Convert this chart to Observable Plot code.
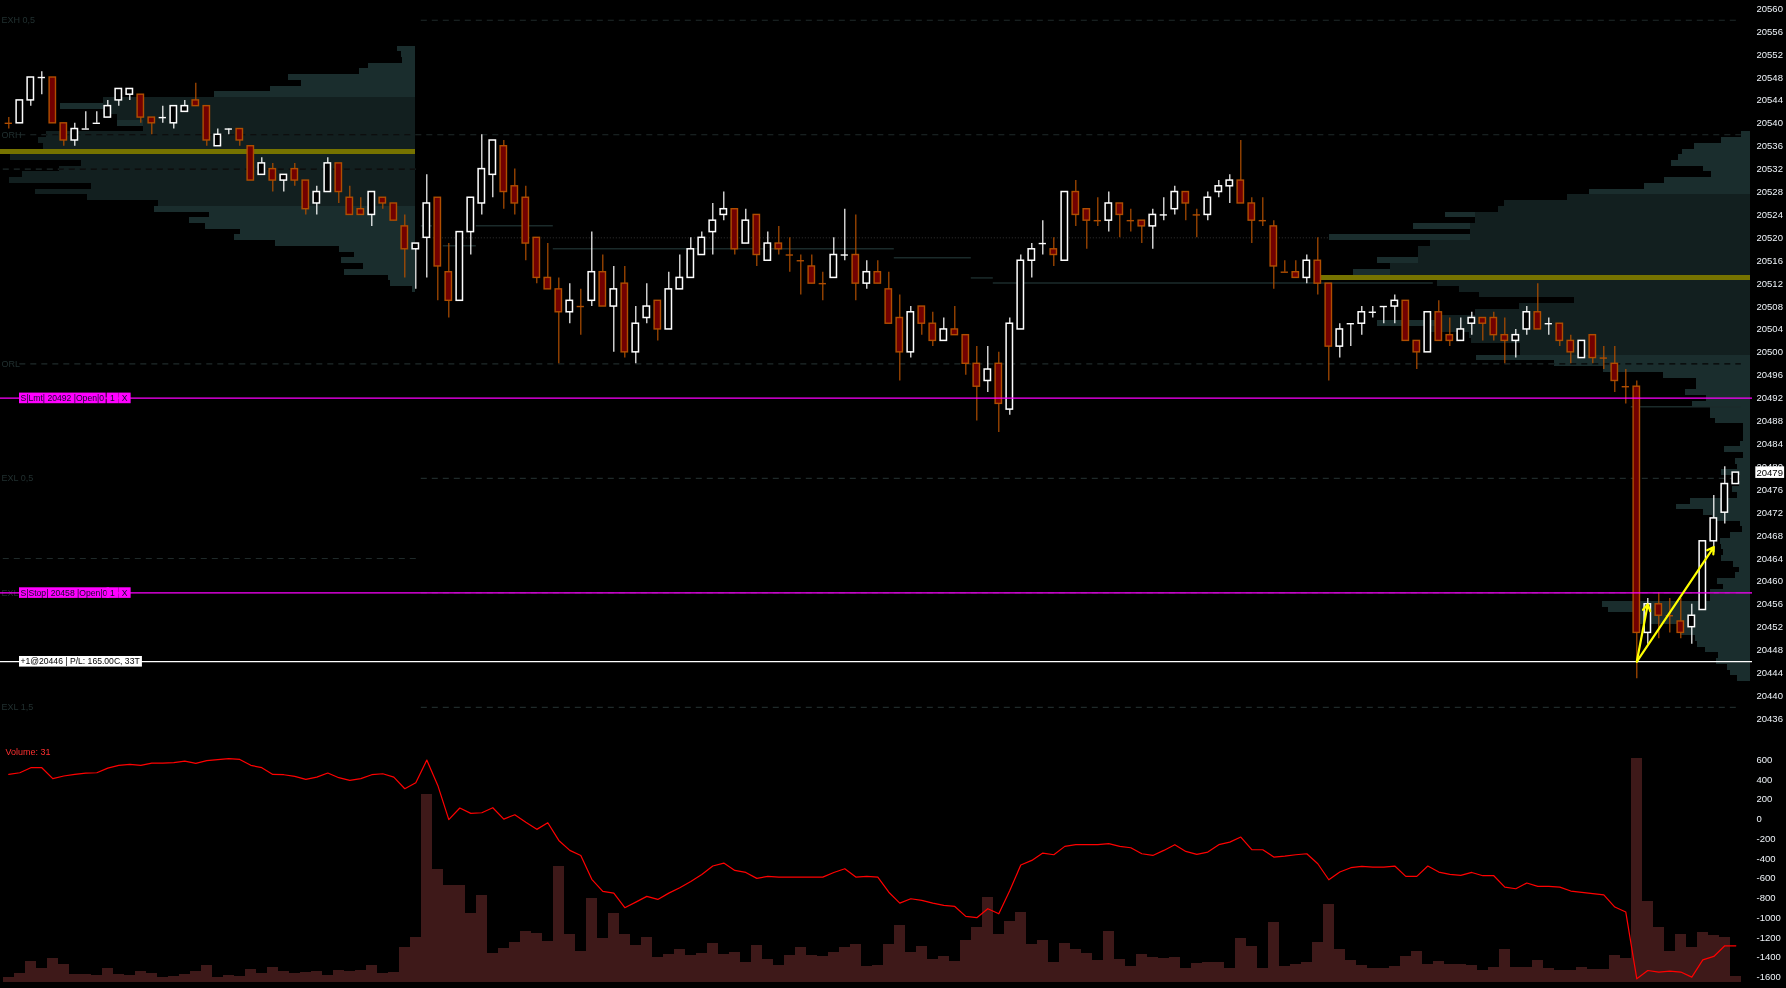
<!DOCTYPE html>
<html>
<head>
<meta charset="utf-8">
<script src="https://cdn.jsdelivr.net/npm/d3@7"></script>
<script src="https://cdn.jsdelivr.net/npm/@observablehq/plot@0.6"></script>
<style>
  html, body { margin: 0; padding: 0; background: #000; overflow: hidden; }
  #chart { position: relative; width: 1786px; height: 988px; background: #000; }
  #chart svg { position: absolute; left: 0; top: 0; }
</style>
</head>
<body>
<div id="chart"></div>
<script>
// ---------------- DATA ----------------
const open = [20540,20540,20544,20548,20548,20540,20537,20539,20540,20541,
20544,20545,20545,20541,20541,20540,20542,20544,20543,20536,
20539,20539,20536,20531,20532,20530,20532,20530,20526,20528,
20533,20527,20525,20524,20527,20526,20522,20518,20520,20527,
20514,20509,20521,20526,20531,20536,20529,20527,20520,20513,
20511,20507,20508,20509,20514,20508,20512,20500,20506,20509,
20504,20511,20513,20517,20521,20524,20525,20519,20524,20516,
20519,20517,20516,20515,20512,20513,20517,20517,20512,20514,
20511,20506,20500,20508,20505,20502,20504,20503,20498,20495,
20498,20490,20504,20516,20519,20518,20516,20528,20525,20523,
20523,20526,20523,20523,20522,20524,20525,20528,20524,20524,
20528,20529,20530,20526,20523,20522,20514,20514,20513,20516,
20512,20501,20505,20505,20507,20508,20508,20509,20502,20500,
20507,20503,20502,20505,20506,20506,20503,20502,20504,20507,
20505,20505,20502,20499,20503,20499,20498,20494,20494,20451,
20456,20454,20453,20452,20455,20467,20472,20477];
const high = [20541,20544,20548,20549,20548,20540,20540,20542,20542,20544,
20546,20546,20545,20541,20543,20543,20544,20547,20543,20539,
20539,20539,20536,20534,20533,20531,20533,20530,20529,20534,
20533,20529,20527,20528,20527,20526,20524,20519,20531,20527,
20519,20521,20527,20538,20537,20537,20532,20529,20520,20519,
20513,20512,20511,20521,20517,20515,20515,20508,20512,20509,
20514,20517,20520,20521,20526,20528,20525,20525,20524,20521,
20522,20520,20517,20517,20514,20520,20525,20524,20516,20516,
20514,20510,20508,20508,20507,20506,20508,20503,20501,20501,
20500,20506,20517,20519,20523,20520,20528,20530,20525,20527,
20528,20526,20525,20523,20525,20527,20529,20528,20525,20528,
20530,20531,20537,20527,20527,20523,20516,20516,20517,20520,
20512,20505,20505,20508,20508,20508,20510,20509,20502,20507,
20509,20506,20506,20507,20506,20507,20506,20504,20508,20512,
20506,20505,20503,20502,20503,20501,20501,20497,20495,20457,
20458,20457,20457,20456,20467,20475,20480,20479];
const low = [20539,20540,20543,20545,20540,20536,20536,20539,20540,20541,
20543,20544,20540,20538,20540,20539,20542,20543,20536,20536,
20538,20536,20530,20531,20528,20528,20529,20524,20524,20528,
20526,20524,20524,20522,20525,20523,20513,20511,20513,20509,
20506,20509,20517,20524,20527,20525,20524,20516,20512,20511,
20498,20505,20503,20508,20508,20500,20499,20498,20505,20502,
20504,20511,20513,20517,20517,20523,20517,20519,20515,20516,
20517,20514,20510,20512,20509,20513,20516,20509,20511,20512,
20505,20495,20499,20503,20501,20502,20503,20496,20488,20493,
20486,20489,20504,20513,20517,20515,20516,20522,20518,20522,
20521,20520,20521,20519,20518,20523,20524,20523,20520,20523,
20527,20526,20526,20519,20522,20511,20514,20513,20512,20510,
20495,20499,20501,20503,20506,20505,20505,20502,20497,20500,
20502,20501,20502,20503,20502,20502,20498,20499,20503,20504,
20503,20501,20498,20499,20498,20497,20493,20491,20443,20449,
20450,20451,20450,20449,20455,20465,20470,20477];
const close = [20540,20544,20548,20548,20540,20537,20539,20539,20540,20543,
20546,20546,20541,20540,20541,20543,20543,20543,20537,20538,
20539,20537,20530,20533,20530,20531,20530,20525,20528,20533,
20528,20524,20524,20528,20526,20523,20518,20519,20526,20515,
20509,20521,20527,20532,20537,20528,20526,20519,20513,20511,
20507,20509,20508,20514,20508,20511,20500,20505,20508,20504,
20511,20513,20518,20520,20523,20525,20518,20523,20517,20519,
20518,20517,20516,20512,20512,20517,20517,20512,20514,20512,
20505,20500,20507,20505,20502,20504,20503,20498,20494,20497,
20491,20505,20516,20518,20519,20517,20528,20524,20523,20523,
20526,20524,20523,20522,20524,20524,20528,20526,20524,20527,
20529,20530,20526,20523,20523,20515,20514,20513,20516,20512,
20501,20504,20505,20507,20507,20508,20509,20502,20500,20507,
20502,20502,20504,20506,20505,20503,20502,20503,20507,20504,
20505,20502,20500,20502,20499,20499,20495,20494,20451,20456,
20454,20454,20451,20454,20467,20471,20477,20479];
// dojis drawn in the "up" colour
const dojiUp = [3,7,8,14,20,76,94,105,122,124,125,140];

const volume = [25,47,112,74,129,96,42,42,36,74,
42,36,58,47,25,31,42,58,91,25,
36,31,69,47,80,58,47,53,58,36,
63,58,63,91,47,53,189,243,1021,613,
526,526,374,472,156,183,216,276,265,221,
629,259,167,455,238,374,259,200,243,134,
151,178,145,156,211,151,161,107,200,123,
91,145,189,145,140,161,189,205,85,91,
205,308,161,194,123,140,112,227,296,461,
259,330,379,205,227,107,211,178,156,118,
276,123,85,151,134,129,134,74,102,107,
107,74,238,194,74,325,85,96,107,216,
423,178,118,91,74,74,85,140,167,96,
112,96,96,91,63,80,178,80,80,118,
74,63,63,80,69,69,145,129,1217,439,
297,167,259,189,270,254,243,31];
const cumDelta = [452,469,520,520,409,436,452,466,469,516,
544,554,544,567,567,571,587,564,591,601,
611,604,544,520,452,449,432,402,425,466,
419,392,409,449,459,425,307,368,597,341,
-6,112,58,64,115,0,44,-33,-104,-37,
-216,-317,-368,-610,-732,-749,-897,-840,-782,-813,
-749,-695,-631,-560,-475,-445,-519,-540,-600,-580,
-587,-587,-587,-587,-587,-540,-502,-587,-580,-587,
-740,-850,-806,-823,-850,-874,-884,-985,-998,-907,
-958,-722,-465,-418,-344,-361,-276,-259,-259,-259,
-249,-276,-290,-351,-368,-317,-259,-327,-357,-334,
-259,-233,-182,-310,-310,-384,-374,-361,-351,-452,
-614,-536,-492,-479,-486,-486,-475,-580,-580,-475,
-536,-560,-570,-540,-573,-573,-688,-705,-647,-681,
-681,-688,-728,-742,-755,-766,-890,-941,-1616,-1532,
-1548,-1538,-1548,-1599,-1424,-1390,-1282,-1282];

// volume profiles (one row per price tick, from the top price down)
const leftProfHigh = 20553;
const leftProfVol = [18,14,13,47,56,127,114,145,201,312,
355,312,298,298,272,369,377,372,415,405,
334,356,393,406,324,380,328,257,261,206,
226,210,175,181,140,76,61,74,52,71,
27,25,3];
const leftVAH = 20544;
const leftProfVA = [312,312,312,298,272,272,369,377,372,415,405,334,356,393,406,324,380,328,257];
const leftPOC = 20535;

const rightProfHigh = 20538;
const rightProfVol = [9,29,56,68,72,79,47,39,86,106,
161,183,246,252,305,275,337,280,421,320,
332,332,373,360,397,430,313,291,271,176,
231,275,309,373,320,281,279,230,230,274,
196,147,87,54,54,65,44,58,40,40,
35,7,7,7,10,26,7,15,13,29,
10,11,18,13,60,74,47,38,10,8,
20,30,29,27,29,17,11,15,33,27,
40,40,148,142,117,110,72,70,55,53,
45,32,34,23,20,13];
const rightVAH = 20527;
const rightProfVA = [183,246,252,275,275,280,280,280,320,332,332,332,360,360,430,313,291,271,176,231,275,309,309,320,281,279,230,230];
const rightPOC = 20513;

// key levels
const levelNames = ["EXH 0,5","ORH","ORL","EXL 0,5","EXL 1","EXL 1,5"];
const levelPrices = [20558,20538,20498,20478,20458,20438];
const levelFromBar = [38,1.5,1.5,38,38,38];
const prevLevelPrices = [20532,20464];
const sessionStartBar = 38;

// developing line segments [fromBar, toBar, price]
const devSegFrom = [38,40,43,50,81,88,90,148];
const devSegTo   = [38,42,49,80,87,89,129,157];
const devSegPrice = [20522.1,20518.6,20522.1,20518.1,20516.5,20513,20512.1,20490.5];
const dottedLevel = {price: 20520, from: 38, to: 120};

// orders & position
const orderText = ["S|Lmt| 20492 |Open|0","S|Stop| 20458 |Open|0"];
const orderPrice = [20492,20458];
const orderQty = ["1","1"];
const positionText = "+1@20446 | P/L: 165.00C, 33T";
const positionPrice = 20446;

// executions (entry -> exits)
const tradeEntryBar = [148,148], tradeEntryPrice = [20446,20446];
const tradeExitBar = [149,155], tradeExitPrice = [20456,20466];

const priceTicks = [20436,20440,20444,20448,20452,20456,20460,20464,20468,20472,20476,20480,
20484,20488,20492,20496,20500,20504,20508,20512,20516,20520,20524,20528,20532,20536,20540,
20544,20548,20552,20556,20560];
const deltaTicks = [-1600,-1400,-1200,-1000,-800,-600,-400,-200,0,200,400,600];

// ---------------- LAYOUT / STYLE ----------------
const W = 1786, H = 988;
const FONT = "'Liberation Sans', Arial, sans-serif";
const xDomain = [0, 157], xRange = [8.3, 1735.3];
const yDomain = [20436, 20560], yRange = [718.3, 8.3];
const LIGHT = "#1a2d2d", DARK = "#121f1f", OLIVE = "#767300";
const baseStyle = {background: "transparent", color: "#eef3f8", fontFamily: FONT, fontSize: "9px", overflow: "visible"};

const candles = open.map((o, i) => ({i, o, h: high[i], l: low[i], c: close[i],
  up: close[i] > o || (close[i] === o && dojiUp.includes(i))}));
const upC = candles.filter(d => d.up), dnC = candles.filter(d => !d.up);

const chart = document.getElementById("chart");

// ---------- profiles ----------
function profilePlot(high0, vols, vah, vaVols, poc, xRangeP) {
  const rows = vols.map((v, k) => ({p: high0 - k, v}));
  const va = vaVols.map((v, k) => ({p: vah - k, v}));
  const pocRow = rows.find(d => d.p === poc);
  return Plot.plot({
    width: W, height: H, margin: 0,
    x: {domain: [0, d3.max(vols)], range: xRangeP, axis: null},
    y: {domain: yDomain, range: yRange, axis: null},
    style: baseStyle,
    marks: [
      Plot.rect(rows, {x1: 0, x2: "v", y1: d => d.p - 0.5, y2: d => d.p + 0.5, fill: LIGHT, shapeRendering: "crispEdges"}),
      Plot.rect(va, {x1: 0, x2: "v", y1: d => d.p - 0.5, y2: d => d.p + 0.5, fill: DARK, shapeRendering: "crispEdges"}),
      Plot.rect([pocRow], {x1: 0, x2: "v", y1: d => d.p - 0.5, y2: d => d.p + 0.5, fill: OLIVE, shapeRendering: "crispEdges"})
    ]
  });
}
chart.appendChild(profilePlot(leftProfHigh, leftProfVol, leftVAH, leftProfVA, leftPOC, [415, 0]));
chart.appendChild(profilePlot(rightProfHigh, rightProfVol, rightVAH, rightProfVA, rightPOC, [1750, 1320]));

// ---------- key level lines (difference blend so they show dark over profiles) ----------
const levels = levelNames.map((n, k) => ({n, p: levelPrices[k], from: levelFromBar[k]}));
const lastBar = open.length - 1;
const levelSvg = Plot.plot({
  width: W, height: H, margin: 0, marginRight: 34,
  x: {domain: xDomain, range: xRange, axis: null},
  y: {domain: yDomain, range: yRange, axis: null},
  style: baseStyle,
  marks: [
    Plot.ruleY(levels, {y: "p", x1: d => d.from - 0.5, x2: lastBar + 0.5, stroke: "#1f2a2a", strokeWidth: 1.2, strokeDasharray: "6,5"}),
    Plot.ruleY(prevLevelPrices, {y: d => d, x1: -0.5, x2: sessionStartBar - 0.5, stroke: "#1f2a2a", strokeWidth: 1.2, strokeDasharray: "6,5"})
  ]
});
levelSvg.style.mixBlendMode = "difference";
chart.appendChild(levelSvg);

// ---------- main price chart ----------
const devSegs = devSegFrom.map((f, k) => ({f, t: devSegTo[k], p: devSegPrice[k]}));
const orders = orderText.map((t, k) => ({t, p: orderPrice[k], q: orderQty[k]}));
const trades = tradeEntryBar.map((b, k) => ({eb: b, ep: tradeEntryPrice[k], xb: tradeExitBar[k], xp: tradeExitPrice[k]}));
const lastClose = close[lastBar];
const WHITE = "#ffffff", DNFILL = "#720000", DNLINE = "#b04e00";
// text colours of the tags (used to find them afterwards for their boxes)
const TAG_ORDER = "#120a2a", TAG_QTY = "#120a2b", TAG_X = "#120a2c", TAG_POS = "#010101", TAG_PRICE = "#020202";
const tagBoxes = {
  [TAG_ORDER]: ["#ff00ff", 1.5], [TAG_QTY]: ["#ff00ff", 3.5], [TAG_X]: ["#ff00ff", 3],
  [TAG_POS]: ["#ffffff", 1.5], [TAG_PRICE]: ["#ffffff", 1.2]
};

const main = Plot.plot({
  width: W, height: H, margin: 0, marginRight: 34,
  x: {domain: xDomain, range: xRange, axis: null},
  y: {domain: yDomain, range: yRange, axis: null},
  style: baseStyle,
  marks: [
    // level labels
    Plot.text(levels, {y: "p", text: "n", frameAnchor: "left", textAnchor: "start", dx: 1, fill: "#213030", fontSize: 9}),
    // developing lines
    Plot.ruleY(devSegs, {y: "p", x1: d => d.f - 0.5, x2: d => d.t + 0.5, stroke: "#1b2b2b", strokeWidth: 1.5}),
    Plot.ruleY([dottedLevel], {y: "price", x1: d => d.from - 0.5, x2: "to", stroke: "#333", strokeWidth: 1, strokeDasharray: "1,2"}),
    // wicks
    Plot.ruleX(upC, {x: "i", y1: "l", y2: "h", stroke: WHITE, strokeWidth: 1.2}),
    Plot.ruleX(dnC, {x: "i", y1: "l", y2: "h", stroke: DNLINE, strokeWidth: 1.2}),
    // bodies
    Plot.rect(upC.filter(d => d.o !== d.c), {x1: d => d.i - 0.29, x2: d => d.i + 0.29, y1: "o", y2: "c", fill: "#000", stroke: WHITE, strokeWidth: 1.5}),
    Plot.rect(dnC.filter(d => d.o !== d.c), {x1: d => d.i - 0.29, x2: d => d.i + 0.29, y1: "o", y2: "c", fill: DNFILL, stroke: DNLINE, strokeWidth: 1.4}),
    // dojis
    Plot.ruleY(upC.filter(d => d.o === d.c), {y: "o", x1: d => d.i - 0.33, x2: d => d.i + 0.33, stroke: WHITE, strokeWidth: 1.4}),
    Plot.ruleY(dnC.filter(d => d.o === d.c), {y: "o", x1: d => d.i - 0.33, x2: d => d.i + 0.33, stroke: DNLINE, strokeWidth: 1.4}),
    // order & position lines
    Plot.ruleY(orders, {y: "p", stroke: "#ff00ff", strokeWidth: 1.2}),
    Plot.ruleY([positionPrice], {y: d => d, stroke: "#ffffff", strokeWidth: 1.2}),
    // executions
    Plot.arrow(trades, {x1: "eb", y1: "ep", x2: "xb", y2: "xp", stroke: "#ffff00", strokeWidth: 2.2, headLength: 5}),
    // order tags
    Plot.text(orders, {y: "p", text: "t", frameAnchor: "left", textAnchor: "start", dx: 20, fill: TAG_ORDER, fontSize: 8.6}),
    Plot.text(orders, {y: "p", text: "q", frameAnchor: "left", textAnchor: "middle", dx: 112, fill: TAG_QTY, fontSize: 8.6}),
    Plot.text(orders, {y: "p", text: () => "X", frameAnchor: "left", textAnchor: "middle", dx: 124, fill: TAG_X, fontSize: 8.6}),
    Plot.text([positionPrice], {y: d => d, text: () => positionText, frameAnchor: "left", textAnchor: "start", dx: 20, fill: TAG_POS, fontSize: 8.6}),
    // price axis
    Plot.axisY(priceTicks, {anchor: "right", tickSize: 0, tickPadding: 4, tickFormat: d => String(d), label: null, fontSize: 9.5}),
    Plot.text([lastClose], {y: d => d, text: d => String(d), frameAnchor: "right", textAnchor: "start", dx: 4, fill: TAG_PRICE, fontSize: 9.5})
  ]
});
chart.appendChild(main);

// ---------- volume bars ----------
const volRows = volume.map((v, i) => ({i, v}));
const volSvg = Plot.plot({
  width: W, height: H, margin: 0, marginRight: 34,
  x: {domain: xDomain, range: xRange, axis: null},
  y: {domain: [0, d3.max(volume)], range: [981.7, 758], axis: null},
  style: baseStyle,
  marks: [
    Plot.rect(volRows, {x1: d => d.i - 0.5, x2: d => d.i + 0.5, y1: 0, y2: "v", fill: "#3e1919", shapeRendering: "crispEdges"})
  ]
});
chart.appendChild(volSvg);

// ---------- cumulative delta line ----------
const deltaRows = cumDelta.map((v, i) => ({i, v}));
const deltaSvg = Plot.plot({
  width: W, height: H, margin: 0, marginTop: 740, marginRight: 34,
  x: {domain: xDomain, range: xRange, axis: null},
  y: {domain: [-1600, 600], range: [976.7, 759.3], axis: null},
  style: baseStyle,
  marks: [
    Plot.line(deltaRows, {x: "i", y: "v", stroke: "#ff0000", strokeWidth: 1.2}),
    Plot.axisY(deltaTicks, {anchor: "right", tickSize: 0, tickPadding: 4, tickFormat: d => String(d), label: null, fontSize: 9.5}),
    Plot.text([volume[lastBar]], {text: d => `Volume: ${d}`, frameAnchor: "top-left", textAnchor: "start", dx: 5, dy: 8, fill: "#ff3030", fontSize: 9})
  ]
});
chart.appendChild(deltaSvg);

// ---------- tag backgrounds (measured from the real text) ----------
main.querySelectorAll("text").forEach(t => {
  const f = (t.getAttribute("fill") || (t.parentNode && t.parentNode.getAttribute("fill")) || "").toLowerCase();
  const box = tagBoxes[f];
  if (!box) return;
  const [bg, px] = box;
  const b = t.getBBox();
  const r = document.createElementNS("http://www.w3.org/2000/svg", "rect");
  r.setAttribute("x", b.x - px);
  r.setAttribute("y", b.y - 0.3);
  r.setAttribute("width", b.width + 2 * px);
  r.setAttribute("height", b.height + 0.6);
  r.setAttribute("fill", bg);
  const tr = t.getAttribute("transform");
  if (tr) r.setAttribute("transform", tr);
  t.parentNode.insertBefore(r, t);
});
</script>
</body>
</html>
